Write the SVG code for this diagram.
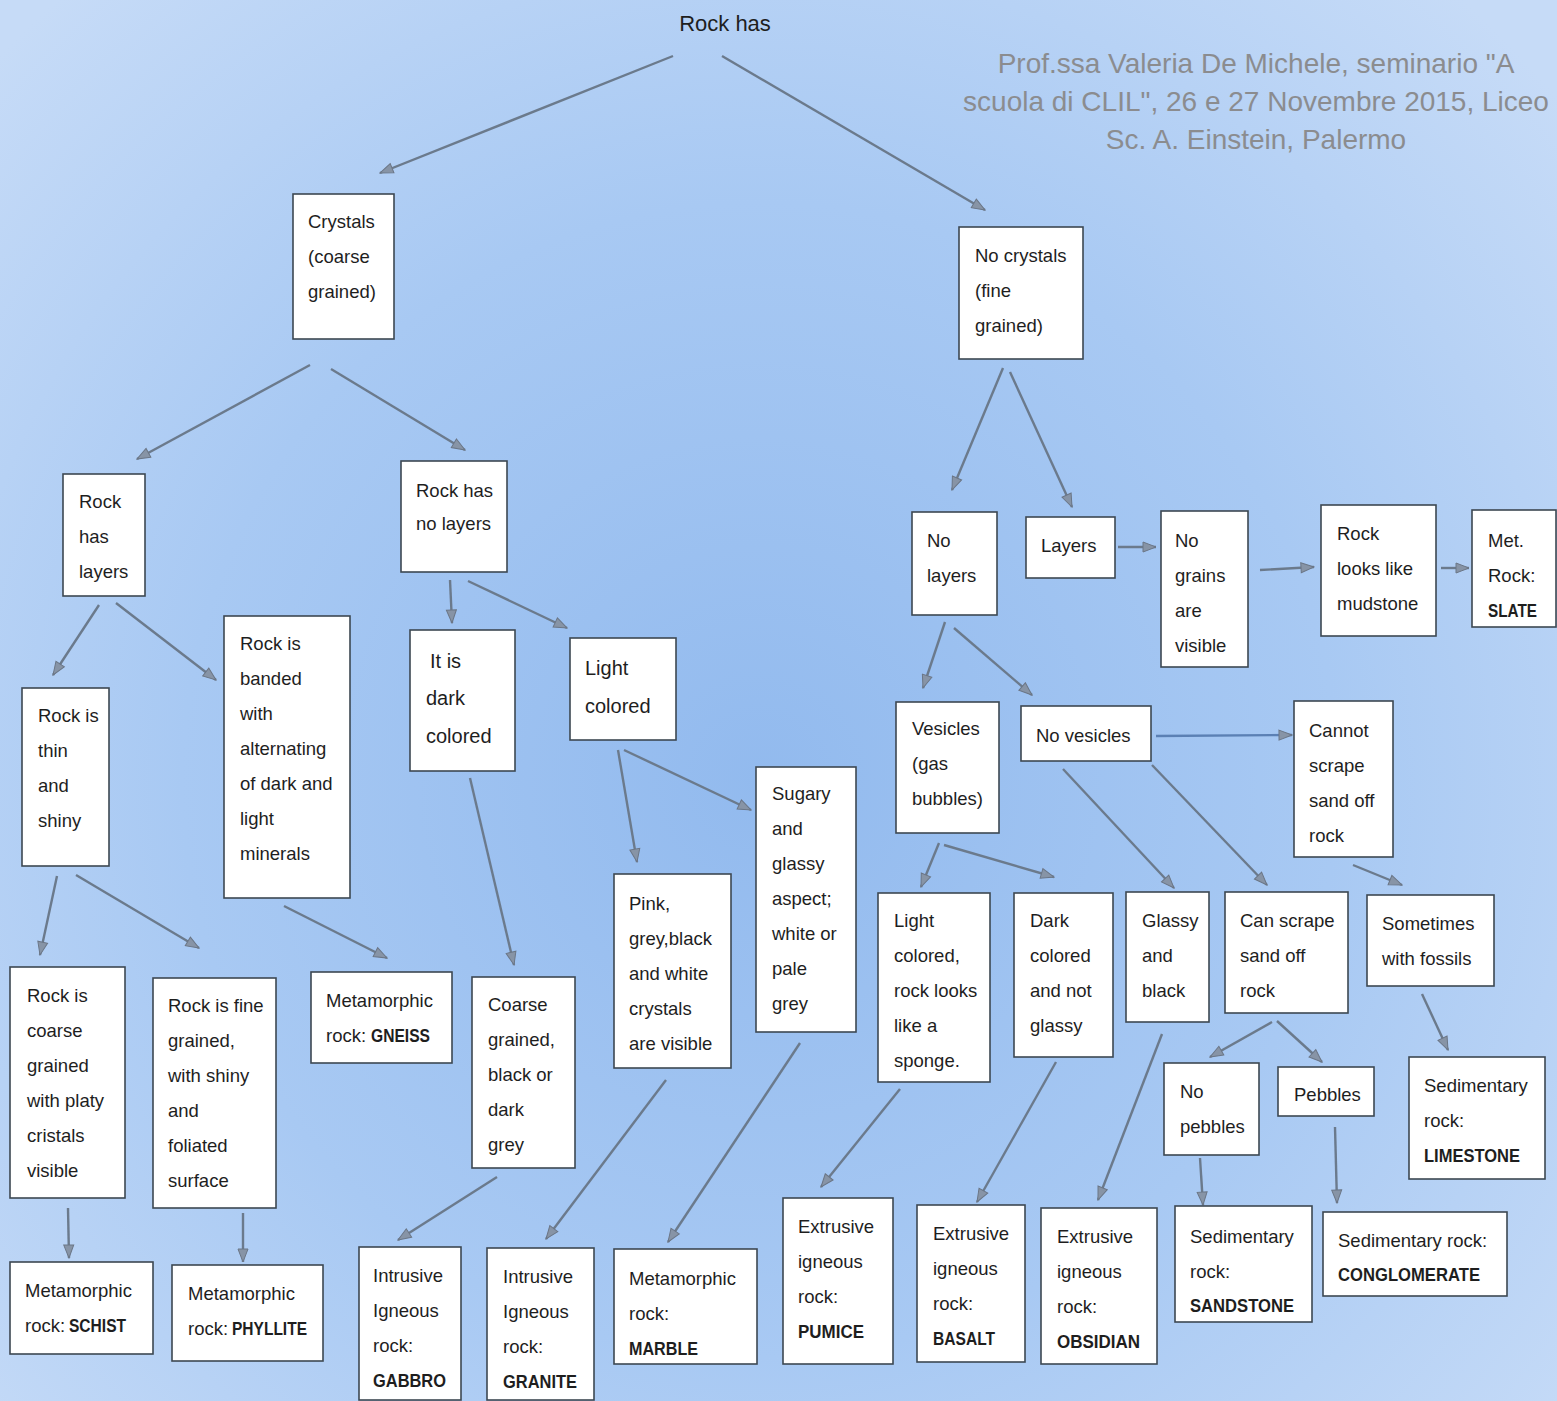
<svg xmlns="http://www.w3.org/2000/svg" width="1557" height="1401" viewBox="0 0 1557 1401">
<defs>
<radialGradient id="bg" gradientUnits="userSpaceOnUse" cx="760" cy="780" r="1050">
<stop offset="0" stop-color="#92baee"/>
<stop offset="0.55" stop-color="#a8c9f3"/>
<stop offset="1" stop-color="#c6dbf7"/>
</radialGradient>
<marker id="ah" markerUnits="userSpaceOnUse" markerWidth="15" markerHeight="12" refX="14" refY="6" orient="auto">
<path d="M1,1 L14,6 L1,11 z" fill="#8794a6" stroke="#6b7686" stroke-width="1"/>
</marker>
<style>
.box rect{fill:#ffffff;stroke:#3d4852;stroke-width:1.6}
.box text{font-family:"Liberation Sans",Arial,sans-serif;font-size:18.5px;fill:#1e1e1e}
.box text.big{font-size:20px}
.box text.b{font-weight:bold;font-size:19px}
#connectors line{stroke:#6b7a8c;stroke-width:2.4;fill:none;marker-end:url(#ah)}
#connectors line.blue{stroke:#5b80b4}
.title{font-family:"Liberation Sans",Arial,sans-serif;font-size:22px;fill:#1e1e1e}
.wm{font-family:"Liberation Sans",Arial,sans-serif;font-size:28px;fill:#8b8c8f}
</style>
</defs>
<rect x="0" y="0" width="1557" height="1401" fill="url(#bg)"/>

<g id="watermark">
<text class="wm" x="1256" y="73" text-anchor="middle">Prof.ssa Valeria De Michele, seminario "A</text>
<text class="wm" x="1256" y="111" text-anchor="middle">scuola di CLIL", 26 e 27 Novembre 2015, Liceo</text>
<text class="wm" x="1256" y="149" text-anchor="middle">Sc. A. Einstein, Palermo</text>
</g>

<g id="connectors">
<line x1="673" y1="56" x2="380" y2="173"/>
<line x1="722" y1="56" x2="985" y2="210"/>
<line x1="310" y1="365" x2="137" y2="459"/>
<line x1="331" y1="369" x2="465" y2="450"/>
<line x1="99" y1="605" x2="53" y2="675"/>
<line x1="116" y1="603" x2="216" y2="680"/>
<line x1="450" y1="580" x2="452" y2="623"/>
<line x1="468" y1="581" x2="567" y2="628"/>
<line x1="57" y1="876" x2="40" y2="955"/>
<line x1="76" y1="875" x2="199" y2="948"/>
<line x1="284" y1="906" x2="387" y2="958"/>
<line x1="470" y1="778" x2="514" y2="965"/>
<line x1="618" y1="750" x2="637" y2="862"/>
<line x1="624" y1="750" x2="751" y2="810"/>
<line x1="497" y1="1177" x2="398" y2="1240"/>
<line x1="666" y1="1080" x2="546" y2="1239"/>
<line x1="800" y1="1043" x2="668" y2="1242"/>
<line x1="68" y1="1208" x2="69" y2="1258"/>
<line x1="243" y1="1213" x2="243" y2="1262"/>
<line x1="1003" y1="368" x2="952" y2="490"/>
<line x1="1010" y1="372" x2="1072" y2="507"/>
<line x1="1118" y1="547" x2="1156" y2="547"/>
<line x1="1260" y1="570" x2="1314" y2="567"/>
<line x1="1441" y1="568" x2="1469" y2="568"/>
<line x1="945" y1="622" x2="923" y2="688"/>
<line x1="954" y1="628" x2="1032" y2="695"/>
<line class="blue" x1="1156" y1="736" x2="1292" y2="735"/>
<line x1="1063" y1="769" x2="1174" y2="888"/>
<line x1="1152" y1="765" x2="1267" y2="885"/>
<line x1="1353" y1="865" x2="1402" y2="885"/>
<line x1="939" y1="843" x2="921" y2="887"/>
<line x1="944" y1="845" x2="1054" y2="877"/>
<line x1="1272" y1="1022" x2="1210" y2="1057"/>
<line x1="1277" y1="1021" x2="1322" y2="1062"/>
<line x1="1422" y1="994" x2="1448" y2="1050"/>
<line x1="1200" y1="1158" x2="1203" y2="1205"/>
<line x1="1335" y1="1127" x2="1337" y2="1203"/>
<line x1="1162" y1="1034" x2="1098" y2="1200"/>
<line x1="1056" y1="1062" x2="977" y2="1202"/>
<line x1="900" y1="1089" x2="821" y2="1187"/>
</g>

<g id="n_root"><text class="title" x="725" y="31" text-anchor="middle">Rock has</text></g>

<g id="n_crystals" class="box"><rect x="293" y="194" width="101" height="145"/>
<text x="308" y="228">Crystals</text><text x="308" y="263">(coarse</text><text x="308" y="298">grained)</text></g>

<g id="n_nocrystals" class="box"><rect x="959" y="227" width="124" height="132"/>
<text x="975" y="262">No crystals</text><text x="975" y="297">(fine</text><text x="975" y="332">grained)</text></g>

<g id="n_haslayers" class="box"><rect x="63" y="474" width="82" height="122"/>
<text x="79" y="508">Rock</text><text x="79" y="543">has</text><text x="79" y="578">layers</text></g>

<g id="n_nolayers" class="box"><rect x="401" y="461" width="106" height="111"/>
<text x="416" y="497">Rock has</text><text x="416" y="530">no layers</text></g>

<g id="n_thin" class="box"><rect x="22" y="688" width="87" height="178"/>
<text x="38" y="722">Rock is</text><text x="38" y="757">thin</text><text x="38" y="792">and</text><text x="38" y="827">shiny</text></g>

<g id="n_banded" class="box"><rect x="224" y="616" width="126" height="282"/>
<text x="240" y="650">Rock is</text><text x="240" y="685">banded</text><text x="240" y="720">with</text><text x="240" y="755">alternating</text><text x="240" y="790">of dark and</text><text x="240" y="825">light</text><text x="240" y="860">minerals</text></g>

<g id="n_dark" class="box"><rect x="410" y="630" width="105" height="141"/>
<text class="big" x="430" y="668">It is</text><text class="big" x="426" y="705">dark</text><text class="big" x="426" y="743">colored</text></g>

<g id="n_light" class="box"><rect x="570" y="638" width="106" height="102"/>
<text class="big" x="585" y="675">Light</text><text class="big" x="585" y="713">colored</text></g>

<g id="n_coarse" class="box"><rect x="10" y="967" width="115" height="231"/>
<text x="27" y="1002">Rock is</text><text x="27" y="1037">coarse</text><text x="27" y="1072">grained</text><text x="27" y="1107">with platy</text><text x="27" y="1142">cristals</text><text x="27" y="1177">visible</text></g>

<g id="n_fine" class="box"><rect x="153" y="978" width="123" height="230"/>
<text x="168" y="1012">Rock is fine</text><text x="168" y="1047">grained,</text><text x="168" y="1082">with shiny</text><text x="168" y="1117">and</text><text x="168" y="1152">foliated</text><text x="168" y="1187">surface</text></g>

<g id="n_gneiss" class="box"><rect x="311" y="972" width="141" height="91"/>
<text x="326" y="1007">Metamorphic</text><text x="326" y="1042">rock:</text><text class="b" x="371" y="1042" textLength="59" lengthAdjust="spacingAndGlyphs">GNEISS</text></g>

<g id="n_coarsegrained" class="box"><rect x="472" y="977" width="103" height="191"/>
<text x="488" y="1011">Coarse</text><text x="488" y="1046">grained,</text><text x="488" y="1081">black or</text><text x="488" y="1116">dark</text><text x="488" y="1151">grey</text></g>

<g id="n_pink" class="box"><rect x="614" y="874" width="117" height="194"/>
<text x="629" y="910">Pink,</text><text x="629" y="945">grey,black</text><text x="629" y="980">and white</text><text x="629" y="1015">crystals</text><text x="629" y="1050">are visible</text></g>

<g id="n_sugary" class="box"><rect x="756" y="767" width="100" height="265"/>
<text x="772" y="800">Sugary</text><text x="772" y="835">and</text><text x="772" y="870">glassy</text><text x="772" y="905">aspect;</text><text x="772" y="940">white or</text><text x="772" y="975">pale</text><text x="772" y="1010">grey</text></g>

<g id="n_schist" class="box"><rect x="10" y="1262" width="143" height="92"/>
<text x="25" y="1297">Metamorphic</text><text x="25" y="1332">rock:</text><text class="b" x="69" y="1332" textLength="57" lengthAdjust="spacingAndGlyphs">SCHIST</text></g>

<g id="n_phyllite" class="box"><rect x="172" y="1265" width="151" height="96"/>
<text x="188" y="1300">Metamorphic</text><text x="188" y="1335">rock:</text><text class="b" x="232" y="1335" textLength="75" lengthAdjust="spacingAndGlyphs">PHYLLITE</text></g>

<g id="n_gabbro" class="box"><rect x="359" y="1247" width="102" height="153"/>
<text x="373" y="1282">Intrusive</text><text x="373" y="1317">Igneous</text><text x="373" y="1352">rock:</text><text class="b" x="373" y="1387" textLength="73" lengthAdjust="spacingAndGlyphs">GABBRO</text></g>

<g id="n_granite" class="box"><rect x="487" y="1248" width="107" height="152"/>
<text x="503" y="1283">Intrusive</text><text x="503" y="1318">Igneous</text><text x="503" y="1353">rock:</text><text class="b" x="503" y="1388" textLength="74" lengthAdjust="spacingAndGlyphs">GRANITE</text></g>

<g id="n_marble" class="box"><rect x="614" y="1249" width="143" height="115"/>
<text x="629" y="1285">Metamorphic</text><text x="629" y="1320">rock:</text><text class="b" x="629" y="1355" textLength="69" lengthAdjust="spacingAndGlyphs">MARBLE</text></g>

<g id="n_pumice" class="box"><rect x="783" y="1198" width="110" height="166"/>
<text x="798" y="1233">Extrusive</text><text x="798" y="1268">igneous</text><text x="798" y="1303">rock:</text><text class="b" x="798" y="1338" textLength="66" lengthAdjust="spacingAndGlyphs">PUMICE</text></g>

<g id="n_basalt" class="box"><rect x="917" y="1205" width="108" height="157"/>
<text x="933" y="1240">Extrusive</text><text x="933" y="1275">igneous</text><text x="933" y="1310">rock:</text><text class="b" x="933" y="1345" textLength="62" lengthAdjust="spacingAndGlyphs">BASALT</text></g>

<g id="n_obsidian" class="box"><rect x="1041" y="1208" width="116" height="156"/>
<text x="1057" y="1243">Extrusive</text><text x="1057" y="1278">igneous</text><text x="1057" y="1313">rock:</text><text class="b" x="1057" y="1348" textLength="83" lengthAdjust="spacingAndGlyphs">OBSIDIAN</text></g>

<g id="n_nolayers2" class="box"><rect x="912" y="512" width="85" height="103"/>
<text x="927" y="547">No</text><text x="927" y="582">layers</text></g>

<g id="n_layers2" class="box"><rect x="1026" y="517" width="89" height="61"/>
<text x="1041" y="552">Layers</text></g>

<g id="n_nograins" class="box"><rect x="1161" y="511" width="87" height="156"/>
<text x="1175" y="547">No</text><text x="1175" y="582">grains</text><text x="1175" y="617">are</text><text x="1175" y="652">visible</text></g>

<g id="n_mudstone" class="box"><rect x="1321" y="505" width="115" height="131"/>
<text x="1337" y="540">Rock</text><text x="1337" y="575">looks like</text><text x="1337" y="610">mudstone</text></g>

<g id="n_slate" class="box"><rect x="1472" y="510" width="84" height="117"/>
<text x="1488" y="547">Met.</text><text x="1488" y="582">Rock:</text><text class="b" x="1488" y="617" textLength="49" lengthAdjust="spacingAndGlyphs">SLATE</text></g>

<g id="n_vesicles" class="box"><rect x="896" y="702" width="103" height="131"/>
<text x="912" y="735">Vesicles</text><text x="912" y="770">(gas</text><text x="912" y="805">bubbles)</text></g>

<g id="n_novesicles" class="box"><rect x="1021" y="706" width="130" height="55"/>
<text x="1036" y="742">No vesicles</text></g>

<g id="n_cannot" class="box"><rect x="1294" y="701" width="99" height="156"/>
<text x="1309" y="737">Cannot</text><text x="1309" y="772">scrape</text><text x="1309" y="807">sand off</text><text x="1309" y="842">rock</text></g>

<g id="n_sponge" class="box"><rect x="878" y="893" width="112" height="189"/>
<text x="894" y="927">Light</text><text x="894" y="962">colored,</text><text x="894" y="997">rock looks</text><text x="894" y="1032">like a</text><text x="894" y="1067">sponge.</text></g>

<g id="n_darknotglassy" class="box"><rect x="1014" y="893" width="99" height="164"/>
<text x="1030" y="927">Dark</text><text x="1030" y="962">colored</text><text x="1030" y="997">and not</text><text x="1030" y="1032">glassy</text></g>

<g id="n_glassy" class="box"><rect x="1126" y="892" width="83" height="130"/>
<text x="1142" y="927">Glassy</text><text x="1142" y="962">and</text><text x="1142" y="997">black</text></g>

<g id="n_canscrape" class="box"><rect x="1225" y="892" width="123" height="121"/>
<text x="1240" y="927">Can scrape</text><text x="1240" y="962">sand off</text><text x="1240" y="997">rock</text></g>

<g id="n_fossils" class="box"><rect x="1367" y="895" width="127" height="91"/>
<text x="1382" y="930">Sometimes</text><text x="1382" y="965">with fossils</text></g>

<g id="n_nopebbles" class="box"><rect x="1164" y="1063" width="95" height="92"/>
<text x="1180" y="1098">No</text><text x="1180" y="1133">pebbles</text></g>

<g id="n_pebbles" class="box"><rect x="1278" y="1067" width="96" height="49"/>
<text x="1294" y="1101">Pebbles</text></g>

<g id="n_limestone" class="box"><rect x="1409" y="1057" width="136" height="122"/>
<text x="1424" y="1092">Sedimentary</text><text x="1424" y="1127">rock:</text><text class="b" x="1424" y="1162" textLength="96" lengthAdjust="spacingAndGlyphs">LIMESTONE</text></g>

<g id="n_sandstone" class="box"><rect x="1175" y="1206" width="137" height="116"/>
<text x="1190" y="1243">Sedimentary</text><text x="1190" y="1278">rock:</text><text class="b" x="1190" y="1312" textLength="104" lengthAdjust="spacingAndGlyphs">SANDSTONE</text></g>

<g id="n_conglomerate" class="box"><rect x="1323" y="1212" width="184" height="84"/>
<text x="1338" y="1247">Sedimentary rock:</text><text class="b" x="1338" y="1281" textLength="142" lengthAdjust="spacingAndGlyphs">CONGLOMERATE</text></g>
</svg>
